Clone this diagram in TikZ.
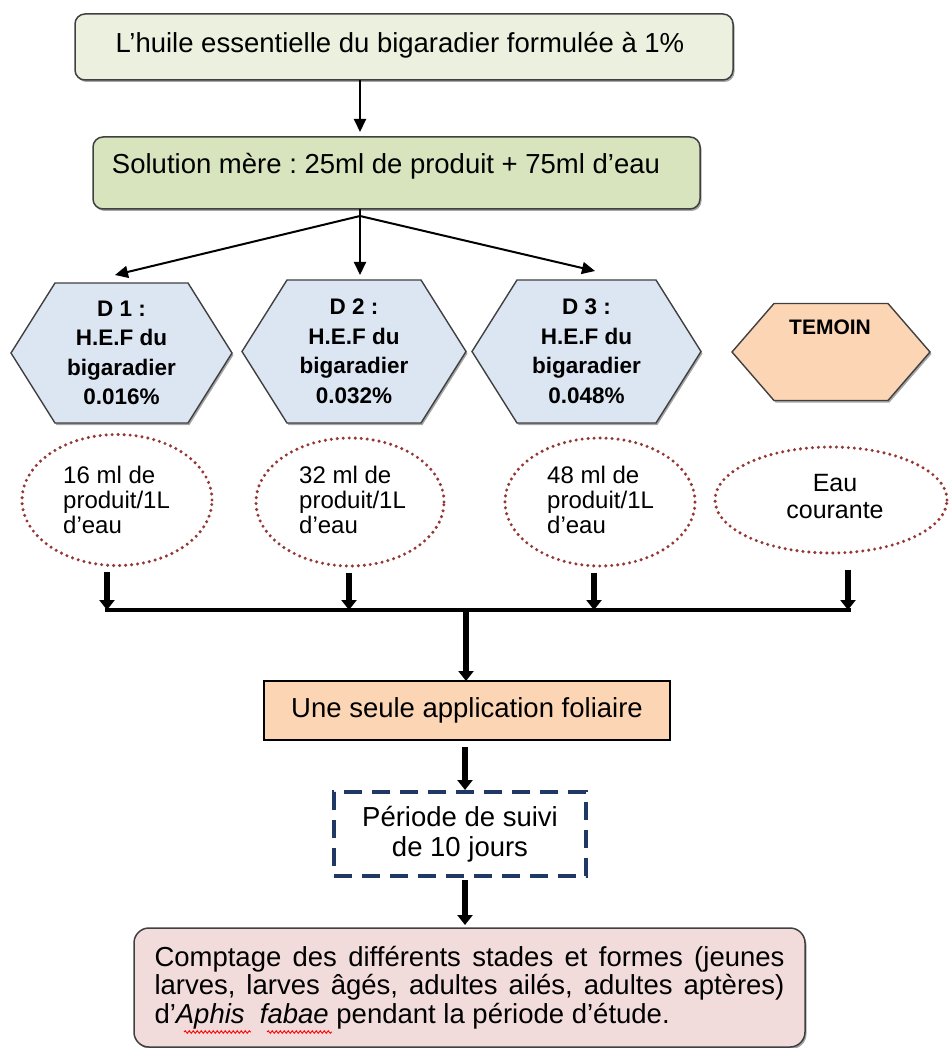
\documentclass[tikz,border=0pt]{standalone}
\usepackage{fontspec}
\setmainfont{Liberation Sans}
\frenchspacing
\usetikzlibrary{arrows.meta,shapes.geometric,backgrounds,shadows,calc,decorations.pathmorphing}
\definecolor{topgreen}{HTML}{EBF1DE}
\definecolor{solgreen}{HTML}{D7E4BD}
\definecolor{hexblue}{HTML}{DCE6F2}
\definecolor{peach}{HTML}{FCD5B5}
\definecolor{pinkbox}{HTML}{F2DCDB}
\definecolor{dotred}{HTML}{953735}
\definecolor{dashblue}{HTML}{1F3864}
\definecolor{edgegray}{HTML}{404040}
\begin{document}
\begin{tikzpicture}[x=1pt,y=-1pt,
  mainfont/.style={font=\fontsize{27.5}{30}\selectfont},
  boxbase/.style={draw=edgegray, line width=1.5pt, inner sep=0pt, outer sep=0pt},
  softshadow/.style={drop shadow={shadow xshift=1.5pt, shadow yshift=-2pt, opacity=0.35, fill=black}},
  greenbox/.style={boxbase, rounded corners=10pt, softshadow},
  txt/.style={mainfont, inner sep=0pt},
  hexnode/.style={inner sep=0pt, outer sep=0pt, align=center,
    font=\bfseries\fontsize{22.5}{29.5}\selectfont},
  hexline/.style={draw=edgegray, line width=1.4pt, softshadow},
  dotell/.style={ellipse, draw=dotred, line width=3.4pt, dash pattern=on 0pt off 6pt,
    line cap=round, inner sep=0pt, outer sep=0pt},
  elltxt/.style={inner sep=0pt, align=left, font=\fontsize{24}{25}\selectfont},
  thinarr/.style={line width=2pt, -{Triangle[width=12pt,length=13pt]}},
  thickarr/.style={line width=6pt, -{Triangle[width=15pt,length=10pt]}},
  redwave/.style={draw=red, line width=0.9pt, decorate, decoration={snake, amplitude=1.3pt, segment length=4pt}},
  ]
\useasboundingbox (0,0) rectangle (948,1048);

% top boxes
\node[greenbox, fill=topgreen, minimum width=658pt, minimum height=66pt] (top) at (404,47) {};
\node[txt] (toptxt) at (400,45) {L’huile essentielle du bigaradier formulée à 1\%};
\node[greenbox, fill=solgreen, minimum width=607pt, minimum height=72pt] (sol) at (396.5,173) {};
\node[txt] (soltxt) at (386,166) {Solution mère : 25ml de produit + 75ml d’eau};

\coordinate (fork) at (360,216);
\coordinate (t1) at (115,275);
\coordinate (t2) at (360,275);
\coordinate (t3) at (595,271);

\draw[thinarr, shorten >=5pt] (top.south -| fork) -- (sol.north -| fork);
\draw[thinarr] (sol.south -| fork) -- (t2);
\draw[thinarr] (fork) -- (t1);
\draw[thinarr] (fork) -- (t3);

% hexagons
\node[hexnode, minimum width=221pt, minimum height=140pt] (d1) at (121.5,353) {D 1 :\\H.E.F du\\bigaradier\\0.016\%};
\node[hexnode, minimum width=224pt, minimum height=143pt] (d2) at (354,351.5) {D 2 :\\H.E.F du\\bigaradier\\0.032\%};
\node[hexnode, minimum width=229pt, minimum height=143pt] (d3) at (586.5,351.5) {D 3 :\\H.E.F du\\bigaradier\\0.048\%};
\node[hexnode, minimum width=198pt, minimum height=97pt] (tem) at (831,352) {};
\node[inner sep=0pt, font=\bfseries\fontsize{21}{24}\selectfont] (temtxt) at (830,327) {TEMOIN};

\begin{scope}[on background layer]
\foreach \n/\i/\c in {d1/44/hexblue, d2/45/hexblue, d3/45/hexblue, tem/42/peach}{
  \draw[hexline, fill=\c] (\n.west) -- ([xshift=\i]\n.north west) -- ([xshift=-\i]\n.north east)
     -- (\n.east) -- ([xshift=-\i]\n.south east) -- ([xshift=\i]\n.south west) -- cycle;
}
\end{scope}

% ellipses
\node[dotell, minimum width=190pt, minimum height=131pt] (e1) at (117,500) {};
\node[dotell, minimum width=188pt, minimum height=128pt] (e2) at (350,502) {};
\node[dotell, minimum width=190pt, minimum height=128pt] (e3) at (600,502) {};
\node[dotell, minimum width=232pt, minimum height=106pt] (e4) at (831,500) {};
\node[elltxt, anchor=west] (e1t) at (63,500) {16 ml de\\produit/1L\\d’eau};
\node[elltxt, anchor=west] (e2t) at (299,500) {32 ml de\\produit/1L\\d’eau};
\node[elltxt, anchor=west] (e3t) at (547,500) {48 ml de\\produit/1L\\d’eau};
\node[inner sep=0pt, align=center, font=\fontsize{25}{27}\selectfont] (e4t) at (835,497) {Eau\\courante};

% bar
\coordinate (bL) at (105,610);
\coordinate (bR) at (851,610);
\coordinate (b1) at (107,610);
\coordinate (b2) at (349,610);
\coordinate (b3) at (594,610);
\coordinate (b4) at (848,610);
\coordinate (bm) at (466,610);
\draw[line width=4.5pt] (bL) -- (bR);
\draw[thickarr, shorten <=6.5pt] (e1.south -| b1) -- (b1);
\draw[thickarr, shorten <=6.5pt] (e2.south -| b2) -- (b2);
\draw[thickarr, shorten <=6.5pt] (e3.south -| b3) -- (b3);
\draw[thickarr, shorten <=17pt] (e4.south -| b4) -- (b4);

% lower flow
\node[boxbase, draw=black, fill=peach, minimum width=406pt, minimum height=59pt, mainfont] (app) at (467,710.5) {Une seule application foliaire};
\draw[thickarr, shorten <=2pt] (bm) -- (app.north -| bm);

\coordinate (ax) at (465,760);
\node[inner sep=0pt, outer sep=0pt, draw=dashblue, line width=3.5pt, dash pattern=on 18pt off 10pt,
  minimum width=252pt, minimum height=84pt, align=center, font=\fontsize{27.5}{30}\selectfont] (per) at (460,834) {Période de suivi\\de 10 jours};
\draw[thickarr, shorten <=7pt, shorten >=2pt] (app.south -| ax) -- (per.north -| ax);

\node[boxbase, rounded corners=15pt, fill=pinkbox, softshadow, minimum width=671pt, minimum height=119pt,
  text width=630pt, align=justify, font=\fontsize{27.5}{28.5}\selectfont] (cmp) at (469.5,987.5)
  {\hyphenpenalty=10000 Comptage des différents stades et formes (jeunes\linebreak larves, larves âgés, adultes ailés, adultes aptères)\linebreak d’\textit{Aphis}\ \ \textit{fabae} pendant la période d’étude.};
\draw[thickarr, shorten <=4pt, shorten >=3pt] (per.south -| ax) -- (cmp.north -| ax);

\coordinate (w1a) at (184,1032);
\coordinate (w1b) at (251,1032);
\coordinate (w2a) at (267,1032);
\coordinate (w2b) at (332,1032);
\draw[redwave] (w1a) -- (w1b);
\draw[redwave] (w2a) -- (w2b);
\end{tikzpicture}
\end{document}
